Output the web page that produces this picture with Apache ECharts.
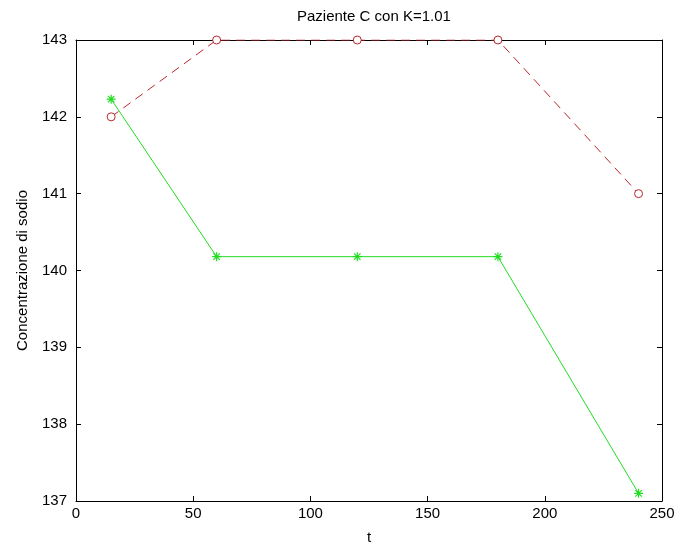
<!DOCTYPE html>
<html>
<head>
<meta charset="utf-8">
<script src="https://cdn.jsdelivr.net/npm/echarts@6/dist/echarts.min.js"></script>
<style>
  html, body { margin: 0; padding: 0; background: #fff; }
  #chart { width: 680px; height: 552px; }
</style>
</head>
<body>
<div id="chart"></div>
<script>
// Sampling times and sodium concentrations
var times = [15, 60, 120, 180, 240];
var measured = [142, 143, 143, 143, 141];
var model = [142.23, 140.18, 140.18, 140.18, 137.1];

var titleText = 'Paziente C con K=1.01';
var xName = 't';
var yName = 'Concentrazione di sodio';

var textFont = 'Liberation Sans, Arial, sans-serif';
var fontSize = 15;
var red = '#b8262c';
var green = '#22dd22';

function pairs(xs, ys) {
  return xs.map(function (x, i) { return [x, ys[i]]; });
}

// asterisk marker drawn as stroked segments
var asterisk = 'path://M0,-5L0,5M-5,0L5,0M-3.6,-3.6L3.6,3.6M-3.6,3.6L3.6,-3.6';

var axisCommon = {
  axisLine: { show: true, onZero: false, lineStyle: { color: '#000', width: 1 } },
  axisTick: { show: true, inside: true, length: 5, lineStyle: { color: '#000' } },
  splitLine: { show: false }
};

var chart = echarts.init(document.getElementById('chart'), null, { renderer: 'canvas' });
chart.setOption({
  animation: false,
  backgroundColor: '#fff',
  // title sits centred over the plotting box rather than the canvas
  title: {
    text: titleText,
    left: 292,
    top: 4,
    textStyle: { fontFamily: textFont, fontSize: fontSize, fontWeight: 'normal', color: '#000' }
  },
  grid: { left: 76, right: 18, top: 40, bottom: 51 },
  xAxis: [
    Object.assign({
      type: 'value', position: 'bottom', min: 0, max: 250, interval: 50,
      name: xName, nameLocation: 'middle', nameGap: 29,
      nameTextStyle: { fontFamily: textFont, fontSize: fontSize, color: '#000' },
      axisLabel: { fontFamily: textFont, fontSize: fontSize, color: '#000', margin: 5 }
    }, axisCommon),
    Object.assign({
      type: 'value', position: 'top', min: 0, max: 250, interval: 50,
      axisLabel: { show: false }
    }, axisCommon)
  ],
  yAxis: [
    Object.assign({
      type: 'value', position: 'left', min: 137, max: 143, interval: 1,
      name: yName, nameLocation: 'middle', nameGap: 46,
      nameTextStyle: { fontFamily: textFont, fontSize: fontSize, color: '#000' },
      axisLabel: { fontFamily: textFont, fontSize: fontSize, color: '#000', margin: 9 }
    }, axisCommon),
    Object.assign({
      type: 'value', position: 'right', min: 137, max: 143, interval: 1,
      axisLabel: { show: false }
    }, axisCommon)
  ],
  series: [
    {
      type: 'line',
      data: pairs(times, measured),
      xAxisIndex: 0, yAxisIndex: 0,
      symbol: 'circle', symbolSize: 8,
      showAllSymbol: true,
      lineStyle: { color: red, width: 1, type: [9, 6] },
      itemStyle: { color: '#fff', borderColor: red, borderWidth: 1 },
      z: 3
    },
    {
      type: 'line',
      data: pairs(times, model),
      xAxisIndex: 0, yAxisIndex: 0,
      symbol: asterisk, symbolSize: 9,
      showAllSymbol: true,
      lineStyle: { color: green, width: 1 },
      itemStyle: { color: green, borderColor: green, borderWidth: 1.2 },
      z: 2
    }
  ]
});
</script>
</body>
</html>
